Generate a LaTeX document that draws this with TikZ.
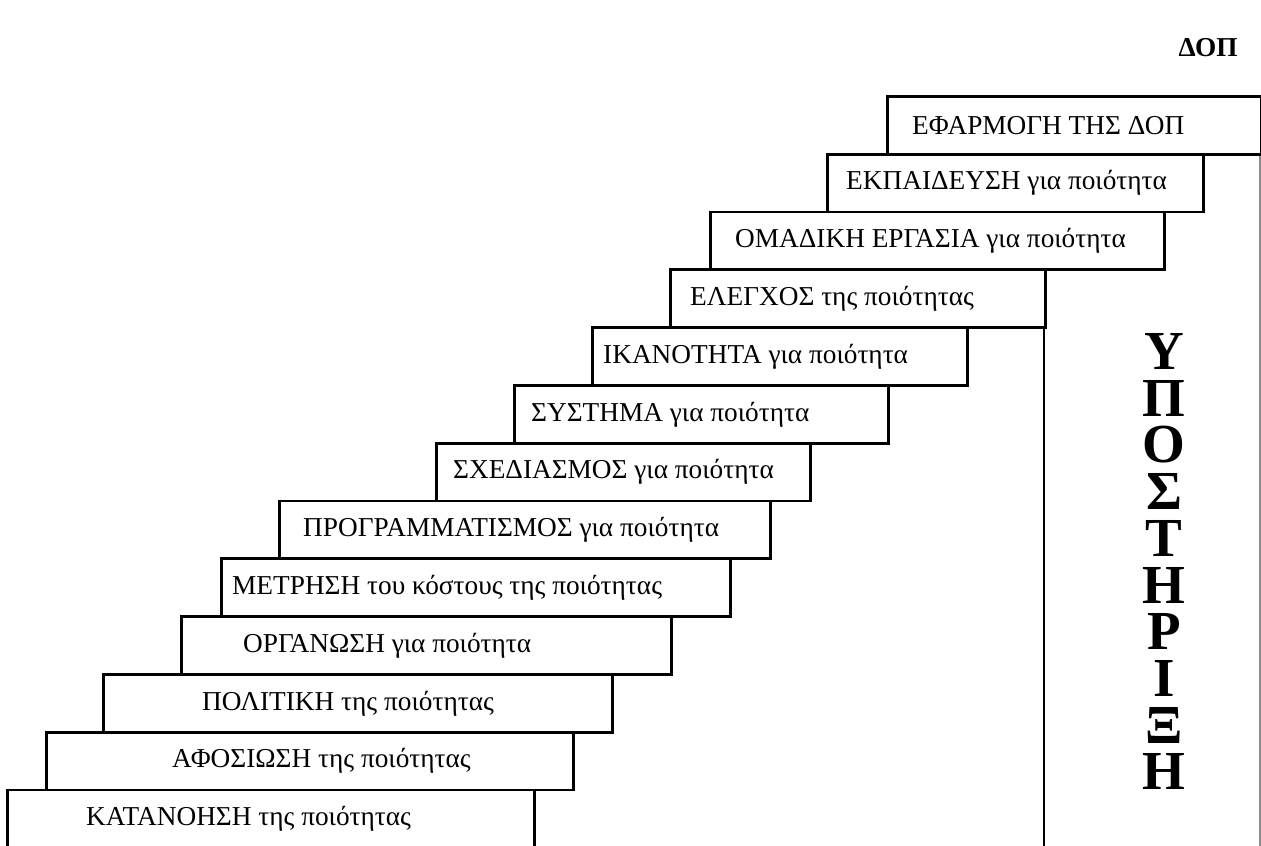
\documentclass[tikz,border=0pt]{standalone}
\usepackage{fontspec}
\setmainfont{Liberation Serif}
\usetikzlibrary{positioning}

\begin{document}
\begin{tikzpicture}[x=1pt,y=-1pt,
  every node/.style={font=\fontsize{27.3}{32}\selectfont},
  stepbox/.style={rectangle,draw=black,line width=2.8pt,fill=white,anchor=north west,
    minimum height=57.8pt,inner sep=0pt},
  steplabel/.style={anchor=west,inner sep=0pt},
  supportbox/.style={rectangle,anchor=north west,
    minimum width=215.5pt,minimum height=700pt,inner sep=0pt},
  letter/.style={font=\bfseries\fontsize{55}{46}\selectfont,anchor=base,inner sep=0pt},
]
\useasboundingbox (0,0) rectangle (1261,846);

% ---------- Title ----------
\node[font=\bfseries\fontsize{27.3}{32}\selectfont] (TITLE) at (1208,48) {ΔΟΠ};

% ---------- Support column ----------
\node[supportbox] (SUP) at (1044,153) {};
\draw[line width=2.8pt] (SUP.north west) -- (SUP.south west);
\draw[line width=1.2pt,black!45] (SUP.north east) -- (SUP.south east);
\foreach \ch [count=\i from 0] in {Υ,Π,Ο,Σ,Τ,Η,Ρ,Ι,Ξ,Η}
  \node[letter] (L\i) at (1164,369.5+46.7*\i) {\ch};

% ---------- Steps (top to bottom) ----------
\node[stepbox,minimum width=374pt] (S1) at (886,95) {};
\node[steplabel,right=26pt of S1.west] (T1) {ΕΦΑΡΜΟΓΗ ΤΗΣ ΔΟΠ};

\node[stepbox,minimum width=376pt] (S2) at (826,152.8) {};
\node[steplabel,right=20pt of S2.west] (T2) {ΕΚΠΑΙΔΕΥΣΗ για ποιότητα};

\node[stepbox,minimum width=454pt] (S3) at (709,210.6) {};
\node[steplabel,right=26pt of S3.west] (T3) {ΟΜΑΔΙΚΗ ΕΡΓΑΣΙΑ για ποιότητα};

\node[stepbox,minimum width=375pt] (S4) at (669,268.4) {};
\node[steplabel,right=21pt of S4.west] (T4) {ΕΛΕΓΧΟΣ της ποιότητας};

\node[stepbox,minimum width=375pt] (S5) at (591,326.2) {};
\node[steplabel,right=12pt of S5.west] (T5) {ΙΚΑΝΟΤΗΤΑ για ποιότητα};

\node[stepbox,minimum width=374pt] (S6) at (513,384.0) {};
\node[steplabel,right=18pt of S6.west] (T6) {ΣΥΣΤΗΜΑ για ποιότητα};

\node[stepbox,minimum width=374pt] (S7) at (435,441.8) {};
\node[steplabel,right=18pt of S7.west] (T7) {ΣΧΕΔΙΑΣΜΟΣ για ποιότητα};

\node[stepbox,minimum width=491pt] (S8) at (278,499.6) {};
\node[steplabel,right=25pt of S8.west] (T8) {ΠΡΟΓΡΑΜΜΑΤΙΣΜΟΣ για ποιότητα};

\node[stepbox,minimum width=509pt] (S9) at (220,557.4) {};
\node[steplabel,right=12pt of S9.west] (T9) {ΜΕΤΡΗΣΗ του κόστους της ποιότητας};

\node[stepbox,minimum width=490pt] (S10) at (180,615.2) {};
\node[steplabel,right=63pt of S10.west] (T10) {ΟΡΓΑΝΩΣΗ για ποιότητα};

\node[stepbox,minimum width=509pt] (S11) at (102,673.0) {};
\node[steplabel,right=100pt of S11.west] (T11) {ΠΟΛΙΤΙΚΗ της ποιότητας};

\node[stepbox,minimum width=527pt] (S12) at (45,730.8) {};
\node[steplabel,right=127pt of S12.west] (T12) {ΑΦΟΣΙΩΣΗ της ποιότητας};

\node[stepbox,minimum width=527pt,minimum height=62pt] (S13) at (6,788.6) {};
\node[steplabel,right=80pt of S13.west,yshift=2pt] (T13) {ΚΑΤΑΝΟΗΣΗ της ποιότητας};

\end{tikzpicture}
\end{document}
